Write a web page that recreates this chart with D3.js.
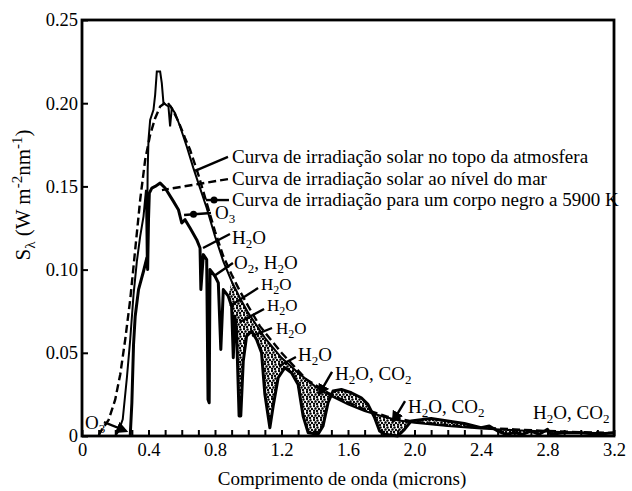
<!DOCTYPE html>
<html>
<head>
<meta charset="utf-8">
<script src="https://cdn.jsdelivr.net/npm/d3@7"></script>
<style>
  body { margin: 0; background: #fff; }
  svg text { font-family: "Liberation Serif", "DejaVu Serif", serif; fill: #000; }
</style>
</head>
<body>
<div class="chart"></div>
<script>
// values: [wavelength (microns), S (W m-2 nm-1)]
const blackBody = [
  [0.10, 0.0], [0.11, 0.0024], [0.16, 0.0096], [0.20, 0.022], [0.23, 0.037],
  [0.26, 0.058], [0.29, 0.082], [0.32, 0.112], [0.35, 0.142], [0.38, 0.166],
  [0.41, 0.181], [0.44, 0.191], [0.47, 0.198], [0.51, 0.201], [0.54, 0.197],
  [0.58, 0.189], [0.62, 0.179], [0.65, 0.172], [0.70, 0.157], [0.75, 0.140],
  [0.80, 0.123], [0.85, 0.108], [0.90, 0.097], [0.95, 0.087], [1.0, 0.078],
  [1.07, 0.066], [1.2, 0.050], [1.35, 0.034], [1.48, 0.026], [1.56, 0.022],
  [1.7, 0.016], [1.84, 0.0115], [2.0, 0.0085], [2.2, 0.0065], [2.4, 0.005],
  [2.6, 0.004], [2.8, 0.003], [3.0, 0.0023], [3.2, 0.0018]
];

const topOfAtmosphere = [
  [0.20, 0.0], [0.22, 0.003], [0.245, 0.01], [0.27, 0.035], [0.29, 0.058],
  [0.31, 0.085], [0.33, 0.105], [0.35, 0.12], [0.37, 0.132], [0.385, 0.148],
  [0.39, 0.105], [0.395, 0.16], [0.40, 0.178], [0.41, 0.19], [0.43, 0.196],
  [0.44, 0.205], [0.45, 0.219], [0.47, 0.219], [0.48, 0.212], [0.49, 0.2],
  [0.52, 0.198], [0.53, 0.186], [0.54, 0.197], [0.56, 0.194], [0.59, 0.186],
  [0.63, 0.174], [0.67, 0.161], [0.70, 0.152], [0.75, 0.137], [0.80, 0.120],
  [0.85, 0.105], [0.90, 0.093], [0.95, 0.083], [1.0, 0.074], [1.1, 0.059],
  [1.2, 0.047], [1.3, 0.038], [1.4, 0.030], [1.5, 0.024], [1.6, 0.019],
  [1.7, 0.015], [1.8, 0.012], [1.9, 0.0095], [2.0, 0.008], [2.2, 0.006],
  [2.4, 0.0045], [2.6, 0.0035], [2.8, 0.0027], [3.0, 0.002], [3.2, 0.0016]
];

const seaLevel = [
  [0.29, 0], [0.30, 0.02], [0.31, 0.055], [0.32, 0.072], [0.34, 0.088],
  [0.37, 0.099], [0.39, 0.107], [0.395, 0.1], [0.40, 0.13], [0.405, 0.146],
  [0.42, 0.149], [0.44, 0.15], [0.47, 0.152], [0.50, 0.149],
  [0.55, 0.141], [0.58, 0.136], [0.60, 0.128], [0.62, 0.13], [0.65, 0.125],
  [0.69, 0.118], [0.71, 0.113], [0.715, 0.088], [0.72, 0.095], [0.73, 0.109],
  [0.75, 0.106], [0.758, 0.022], [0.765, 0.02], [0.77, 0.1], [0.80, 0.096],
  [0.82, 0.092], [0.835, 0.052], [0.85, 0.088], [0.88, 0.084], [0.90, 0.078],
  [0.91, 0.047], [0.92, 0.072], [0.93, 0.062], [0.945, 0.012], [0.955, 0.012],
  [0.97, 0.045], [0.99, 0.06], [1.02, 0.063], [1.05, 0.058], [1.08, 0.05],
  [1.10, 0.025], [1.13, 0.005], [1.15, 0.018], [1.18, 0.035], [1.22, 0.041],
  [1.26, 0.038], [1.30, 0.031], [1.33, 0.012], [1.36, 0.002], [1.42, 0.001],
  [1.45, 0.006], [1.48, 0.02], [1.51, 0.027], [1.56, 0.028], [1.62, 0.026],
  [1.68, 0.023], [1.72, 0.019], [1.76, 0.011], [1.79, 0.003], [1.82, 0.001],
  [1.90, 0.0], [1.94, 0.004], [1.98, 0.009], [2.05, 0.01], [2.1, 0.0105],
  [2.2, 0.009], [2.3, 0.0075], [2.4, 0.005], [2.45, 0.006], [2.5, 0.003],
  [2.55, 0.001], [2.6, 0.002], [2.65, 0.001], [2.7, 0.003], [2.75, 0.001],
  [2.8, 0.004], [2.82, 0.001], [2.9, 0.002], [3.0, 0.002], [3.1, 0.001], [3.2, 0.002]
];

// absorption shading starts here (microns)
const shadeFrom = 0.88;

const xTickValues = d3.range(33).map(i => i / 10);
const xTickLabels = [0, 0.4, 0.8, 1.2, 1.6, 2.0, 2.4, 2.8, 3.2];
const yTickValues = [0, 0.05, 0.10, 0.15, 0.20, 0.25];

// labels: text pieces ["txt", "sub"], anchor and leader in data units
const notes = [
  {t: [["Curva de irradiação solar no topo da atmosfera"]], at: [0.902, 0.1641], from: [0.878, 0.1677], to: [0.680, 0.1593]},
  {t: [["Curva de irradiação solar ao nível do mar"]], at: [0.902, 0.1508], from: [0.878, 0.1544], to: [0.481, 0.1478], dash: true},
  {t: [["Curva de irradiação para um corpo negro a 5900 K"]], at: [0.902, 0.1382], from: [0.884, 0.1418], to: [0.746, 0.1418], dot: true},
  {t: [["O"], ["3", "sub"]], at: [0.80, 0.1304], from: [0.776, 0.134], to: [0.614, 0.1328], dot: true},
  {t: [["H"], ["2", "sub"], ["O"]], at: [0.902, 0.1154], from: [0.890, 0.1214], to: [0.728, 0.113]},
  {t: [["O"], ["2", "sub"], [", H"], ["2", "sub"], ["O"]], at: [0.914, 0.1004], from: [0.908, 0.104], to: [0.794, 0.0962]},
  {t: [["H"], ["2", "sub"], ["O"]], at: [1.077, 0.0877], from: [1.059, 0.0889], to: [0.890, 0.0781], small: true},
  {t: [["H"], ["2", "sub"], ["O"]], at: [1.113, 0.0751], from: [1.095, 0.0763], to: [0.950, 0.0685], small: true},
  {t: [["H"], ["2", "sub"], ["O"]], at: [1.167, 0.0613], from: [1.143, 0.0649], to: [1.023, 0.0601], small: true},
  {t: [["H"], ["2", "sub"], ["O"]], at: [1.299, 0.0451], from: [1.287, 0.0475], to: [1.185, 0.0421]},
  {t: [["H"], ["2", "sub"], ["O, CO"], ["2", "sub"]], at: [1.522, 0.0337], from: [1.504, 0.0385], to: [1.426, 0.0252], arrow: true},
  {t: [["H"], ["2", "sub"], ["O, CO"], ["2", "sub"]], at: [1.961, 0.0138], from: [1.943, 0.021], to: [1.871, 0.009], arrow: true},
  {t: [["H"], ["2", "sub"], ["O, CO"], ["2", "sub"]], at: [2.713, 0.0102]},
  {t: [["O"], ["3", "sub"]], at: [0.018, 0.0042], from: [0.132, 0.0084], to: [0.265, 0.003], arrow: true}
];

const margin = {top: 20, right: 18, bottom: 55, left: 82},
  width = 632 - margin.left - margin.right,
  height = 491 - margin.top - margin.bottom;

const x = d3.scaleLinear().domain([0, 3.2]).range([0, width]);
const y = d3.scaleLinear().domain([0, 0.25]).range([height, 0]);

const svg = d3.select(".chart").append("svg")
    .attr("width", 632)
    .attr("height", 491)
  .append("g")
    .attr("transform", "translate(" + margin.left + "," + margin.top + ")");

const defs = svg.append("defs");

const pat = defs.append("pattern")
  .attr("id", "stipple")
  .attr("patternUnits", "userSpaceOnUse")
  .attr("width", 7).attr("height", 7);
pat.append("rect").attr("width", 7).attr("height", 7).attr("fill", "#fff");
[[1, 1], [4.5, 1.5], [2.5, 3.5], [6, 4], [1, 5.8], [4, 6]].forEach(p => {
  pat.append("circle").attr("cx", p[0]).attr("cy", p[1]).attr("r", 1.2).attr("fill", "#000");
});

defs.append("marker")
  .attr("id", "arrow")
  .attr("viewBox", "0 0 10 10")
  .attr("refX", 8).attr("refY", 5)
  .attr("markerWidth", 5).attr("markerHeight", 5)
  .attr("orient", "auto")
  .append("path").attr("d", "M0,0L10,5L0,10z").attr("fill", "#000");

const line = d3.line()
  .x(d => x(d[0]))
  .y(d => y(d[1]));

// shaded absorption bands between top of atmosphere and sea level
const band = seaLevel.filter(d => d[0] >= shadeFrom)
  .concat(topOfAtmosphere.filter(d => d[0] >= shadeFrom).reverse());
svg.append("path")
  .attr("d", line(band) + "Z")
  .attr("fill", "url(#stipple)")
  .attr("stroke", "none");

svg.append("path")
  .datum(blackBody)
  .attr("d", line)
  .attr("fill", "none")
  .attr("stroke", "#000")
  .attr("stroke-width", 2.4)
  .attr("stroke-dasharray", "8,4");

svg.append("path")
  .datum(topOfAtmosphere)
  .attr("d", line)
  .attr("fill", "none")
  .attr("stroke", "#000")
  .attr("stroke-width", 2);

svg.append("path")
  .datum(seaLevel)
  .attr("d", line)
  .attr("fill", "none")
  .attr("stroke", "#000")
  .attr("stroke-width", 3)
  .attr("stroke-linejoin", "round");

// leader lines and labels
notes.forEach(n => {
  if (n.from) {
    svg.append("line")
      .attr("x1", x(n.from[0])).attr("y1", y(n.from[1]))
      .attr("x2", x(n.to[0])).attr("y2", y(n.to[1]))
      .attr("stroke", "#000")
      .attr("stroke-width", 2.4)
      .attr("stroke-dasharray", n.dash ? "8,4" : null)
      .attr("marker-end", n.arrow ? "url(#arrow)" : null);
    if (n.dot) {
      svg.append("circle")
        .attr("cx", x(n.to[0] + (n.from[0] - n.to[0]) * 0.35))
        .attr("cy", y(n.to[1] + (n.from[1] - n.to[1]) * 0.35))
        .attr("r", 3.5);
    }
  }
  const txt = svg.append("text")
    .attr("x", x(n.at[0]))
    .attr("y", y(n.at[1]))
    .style("font-size", n.small ? "17px" : "19px");
  let shift = 0;
  n.t.forEach(p => {
    const s = p[1] === "sub" ? 4 : 0;
    txt.append("tspan")
      .attr("dy", s - shift)
      .style("font-size", p[1] === "sub" ? (n.small ? "12px" : "13px") : null)
      .text(p[0]);
    shift = s;
  });
});

// frame
svg.append("rect")
  .attr("width", width)
  .attr("height", height)
  .attr("fill", "none")
  .attr("stroke", "#000")
  .attr("stroke-width", 2.8);

const xAxis = d3.axisBottom(x)
  .tickValues(xTickValues)
  .tickSizeInner(-6)
  .tickSizeOuter(0)
  .tickPadding(7)
  .tickFormat(d => {
    const lab = xTickLabels.find(v => Math.abs(v - d) < 1e-6);
    if (lab === undefined) return "";
    return lab === 0 ? "0" : lab.toFixed(1);
  });

const yAxis = d3.axisLeft(y)
  .tickValues(yTickValues)
  .tickSizeInner(-6)
  .tickSizeOuter(0)
  .tickPadding(4)
  .tickFormat(d => d === 0 ? "0" : d.toFixed(2));

const gx = svg.append("g")
  .attr("class", "x axis")
  .attr("transform", "translate(0," + height + ")")
  .call(xAxis);

const gy = svg.append("g")
  .attr("class", "y axis")
  .call(yAxis);

[gx, gy].forEach(g => {
  g.select(".domain").remove();
  g.selectAll(".tick line").attr("stroke", "#000").attr("stroke-width", 2);
  g.selectAll("text")
    .style("font-family", "'Liberation Serif', 'DejaVu Serif', serif")
    .style("font-size", "18.5px")
    .attr("fill", "#000");
});

// axis titles
svg.append("text")
  .attr("x", 260)
  .attr("y", height + 49)
  .attr("text-anchor", "middle")
  .style("font-size", "19px")
  .text("Comprimento de onda (microns)");

const yt = svg.append("text")
  .attr("transform", "translate(-52," + 175 + ") rotate(-90)")
  .attr("text-anchor", "middle")
  .style("font-size", "21px");
yt.append("tspan").text("S");
yt.append("tspan").attr("dy", 5).style("font-size", "15px").text("λ");
yt.append("tspan").attr("dy", -5).text(" (W m");
yt.append("tspan").attr("dy", -8).style("font-size", "15px").text("-2");
yt.append("tspan").attr("dy", 8).text("nm");
yt.append("tspan").attr("dy", -8).style("font-size", "15px").text("-1");
yt.append("tspan").attr("dy", 8).text(")");
</script>
</body>
</html>
